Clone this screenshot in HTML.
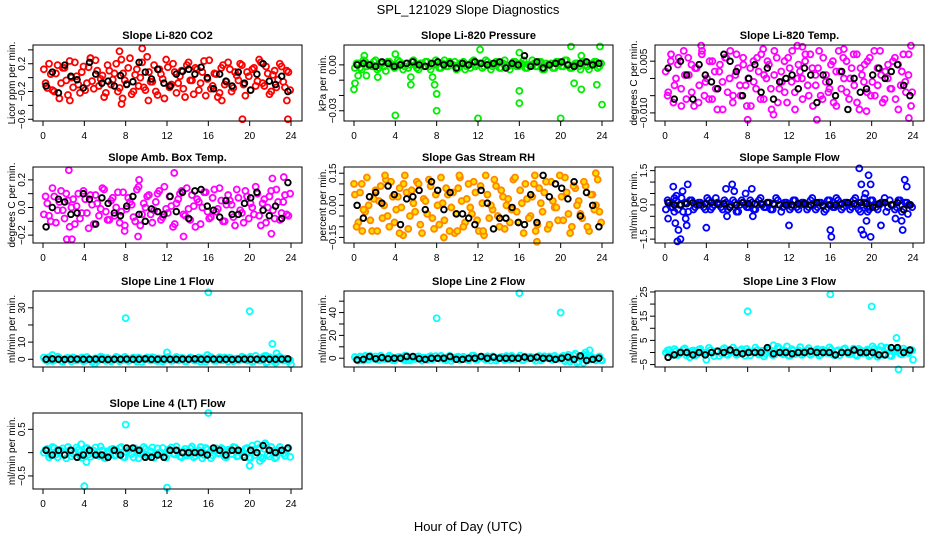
<!DOCTYPE html>
<html><head><meta charset="utf-8"><style>
html,body{margin:0;padding:0;background:#fff;}
svg{display:block;font-family:"Liberation Sans",sans-serif;}
</style></head><body>
<svg id="fig" width="936" height="540" viewBox="0 0 936 540">
<text x="468" y="14" text-anchor="middle" font-size="13">SPL_121029  Slope Diagnostics</text>
<text x="468" y="531" text-anchor="middle" font-size="13">Hour of Day (UTC)</text>
</svg>
<script>
const co2Vals=[12,-15,5,-20,18,-8,14,-25,0,22,-10,8,-18,15,-5,25,-12,3,-22,10,-3,20,-15,6,-9,28,-20,12,0,-14,30,-6,18,-25,5,-30,15,-10,8,-8,10,-28,22,-4,14,-18,8,-26,25,-12,5,-22,18,-6,12,-15,3,20,-10,8,-18,14,-5,22,-12,6,-20,10,-3,16,-14,8];
const co2Vals2=[-8,20,-18,6,-30,14,-4,24,-14,2,-22,16,-8,28,-16,10,-2,-28,18,-10,6,-20,26,-4,14,-24,4,-12,22,-18,8,-6,-20,12,-2,26,-14,20,-22,2,-16,18,-4,-24,12,-8,24,-2,-16,6,-28,14,-10,22,-20,8,-4,18,-26,2,12,-12,26,-8,16,-24,4,-14,20,-6,10,-18];
const co2Black=[-12,8,-22,18,2,-3,-15,22,5,-8,-5,-12,3,-10,-6,22,8,-2,12,-8,-12,5,9,12,5,15,0,-16,5,-5,-12,8,-8,-18,5,20,-5,-10,2,-20];
const co2Out=[[7.7,-0.3],[7.6,-0.38],[19.3,-0.6],[23.7,-0.6],[9.6,0.42],[7.4,0.38],[17.3,-0.33],[10.2,-0.33],[23.6,-0.33],[2.6,-0.33],[4.6,0.28]];
const presVals=[-2,1,-3,2,0,-1,3,-2,1,-4,2,0,-1,2,-3,1,0,3,-2,1,-1,2,-3,0,1,-2,3,-1,0,2,-2,1,-3,0,2,-1,1,-2,3,0,-1,2,-2,1,0,-3,2,-1,1,3,-2,0,1,-1,2,-3,0,1,-2,2,-1,3,0,-2,1,-1,2,0,-3,1,2,-1];
const presVals2=[1,-2,3,-1,0,2,-3,1,-1,2,0,-2,3,1,-1,-2,2,0,-3,1,2,-1,0,3,-2,1,-1,2,0,-3,1,2,-1,-2,3,0,1,-1,2,-3,0,1,-2,3,-1,0,2,-1,1,-2,0,3,-1,2,-3,1,0,-2,2,1,-1,3,-2,0,1,-3,2,-1,0,2,-2,1];
const presBlack=[0,1,0,-1,2,1,-1,0,1,2,0,-1,1,2,0,1,-2,1,0,2,1,0,1,2,-2,1,0,6,-1,2,-2,0,1,2,0,-1,1,2,0,1];
const presOut=[[0,-0.016],[0.1,-0.012],[0.4,-0.007],[1.2,-0.007],[2.3,-0.008],[5.5,-0.008],[5.5,-0.013],[7.6,-0.008],[7.8,-0.013],[8.0,-0.019],[4.0,-0.033],[8.0,-0.030],[12.0,-0.035],[16.0,-0.025],[16.0,-0.017],[20.0,-0.035],[24,-0.026],[22,-0.016],[21.3,-0.012],[23.5,-0.013],[21,0.012],[23.8,0.012],[12.2,0.010],[4,0.007],[1.0,0.006],[22,0.006],[16,0.008]];
const tempVals=[2,-4,5,-7,0,6,-3,8,-6,1,4,-8,3,-2,7,-5,0,5,-6,2,-9,4,-1,6,-4,8,-7,1,3,-5,6,-2,0,-8,5,-3,2,7,-6,0,4,-9,1,6,-3,-1,5,-7,3,8,-4,0,2,-6,5,-2,7,-8,1,3,-5,6,-1,-4,4,-7,2,8,-3,0,5,-6,3,-2,7,-9,1,4,-4,6,-1,-5,3,8,-7,2,0,-3,5,-6,4,-2,7,-4,1,-8];
const tempVals2=[-5,7,-2,4,-8,1,6,-4,3,-7,8,-1,-6,5,-3,2,-9,6,0,-5,7,-2,4,-8,3,-1,6,-6,1,5,-3,8,-7,2,-4,6,-1,-9,4,0,7,-5,3,-2,8,-6,1,-3,5,-8,2,6,-4,0,7,-7,3,-1,5,-5,8,-2,1,-6,4,-3,6,-9,2,-1,7,-4];
const tempBlack=[3,-6,5,1,-6,4,1,-1,-3,7,5,2,-5,0,4,-4,3,-6,-1,0,1,-3,3,1,-7,1,-1,-5,2,-9,0,-4,-3,1,3,0,2,4,-2,-5];
const tempOut=[[8.0,-0.012],[14.7,-0.012],[23.6,-0.0115],[3.5,0.0095],[9.5,0.0085],[17.3,0.0085],[12.8,0.0095],[13.3,0.0092],[23.8,0.0095],[19.5,-0.0095],[10.5,-0.0105]];
const ambVals=[-5,3,-10,8,-2,12,-8,5,0,-12,10,-4,6,-15,2,9,-6,14,-3,-9,7,0,-11,11,-1,4,-7,13,-13,3,8,-5,-2,10,-9,15,-4,1,-12,6,12,-6,-1,9,-14,4,0,11,-8,7,-3,14,-10,2,5,-7,13,-2,-11,8,3,-5,10,-13,6,0,12,-8,4,-4,9,-6];
const ambVals2=[8,-6,14,-11,4,-2,10,-14,6,1,-8,12,-4,9,-12,3,-1,13,-9,5,-6,11,-3,-13,7,2,-10,15,-5,0,9,-11,4,12,-7,-1,8,-14,3,10,-5,14,-9,1,6,-12,11,-3,-7,13,-1,5,-10,9,2,-13,7,-4,12,-8,0,15,-6,3,-11,8,-2,13,-9,4,-5,10];
const ambBlack=[-14,0,6,4,-5,-4,10,6,-12,7,3,-4,-6,1,8,-5,-10,-1,-3,-5,8,-3,11,-8,12,13,1,-2,-7,5,-5,-5,3,7,11,-2,-6,1,-8,18];
const ambOut=[[2.3,-0.23],[2.8,-0.23],[2.5,0.27],[12.7,0.25],[9.2,-0.21],[13.6,-0.21],[22.1,-0.19],[23.3,0.22],[7.9,-0.17],[9.3,0.2],[22.2,0.21]];
const rhVals=[5,-8,10,-3,0,-12,7,2,-6,12,-10,4,-2,8,-14,6,-5,1,11,-9,3,-4,9,-11,0,13,-7,5,-1,-13,8,2,-8,10,-4,6,-12,1,14,-6,-2,9,-10,4,0,-8,12,-3,7,-13,3,-5,10,-9,1,6,-11,11,-1,-7,4,13,-4,-10,8,2,-6,9,-12,5,0,-3];
const rhVals2=[-10,6,-2,13,-7,3,-12,9,0,-5,11,-8,4,-1,14,-11,7,-3,10,-13,2,12,-6,5,-9,1,8,-12,6,-4,13,-10,3,-1,11,-7,9,-14,5,0,12,-5,7,-11,3,-2,13,-8,1,10,-6,4,-12,8,-3,11,-9,2,-1,14,-7,6,-13,9,0,-4,11,-10,5,-2,12,-8];
const rhBlack=[0,-6,4,6,1,9,5,-9,3,4,7,-2,11,7,-2,6,-4,-4,-6,-9,7,1,-11,-6,-6,-1,-8,-9,5,-8,14,4,10,8,3,11,-5,6,0,-10];
const rhOut=[[0.8,-0.12],[4.4,-0.13],[8.7,-0.15],[10.0,-0.12],[17.7,-0.17],[23.4,0.15],[12.5,-0.12],[3.0,0.14],[10.2,0.14],[17.5,0.14],[0,0.1],[4.8,0.1]];
const sfVals=[-2,1,-1,2,0,-3,1,2,-2,0,1,-1,3,-2,0,1,-1,2,-2,0,1,-3,2,0,-1,1,-2,2,0,-1,1,-2,3,0,-1,1,-2,2,-1,0,1,-2,2,0,-1,1,-3,2,0,-1,2,-2,1,0,-1,3,-2,0,1,-2,2,-1,0,1,-3,2,0,-1,2,-2,1,0];
const sfVals2=[2,-1,3,-2,0,1,-3,2,-1,1,0,-2,2,-1,3,0,-2,1,-1,2,-3,0,1,-1,2,-2,0,3,-1,1,-2,0,2,-3,1,0,-1,2,-2,1,0,-1,3,-2,1,0,-2,2,-1,3,0,-1,1,-2,2,0,-3,1,-1,2,0,-2,1,3,-1,0,-2,2,-3,1,0,-1];
const sfBlack=[1,0,0,0.5,1,0,0.5,1,0.5,0.5,-1,0,1,0.5,0.5,0.5,1,0.5,0,0,0,0.5,0.5,0,1,-0.5,0,0,0.5,1,0.5,1,0.5,-1,0.5,1,0,1,-2,0];
const sfOut=[[0.3,-0.6],[0.8,0.8],[1.0,-0.8],[1.2,-1.6],[1.5,-1.5],[1.3,-1.1],[1.7,0.6],[2.1,-0.9],[2.2,0.9],[2.0,-0.6],[4.0,-1.0],[5.9,0.7],[6.5,0.9],[6.7,0.6],[6.0,-0.5],[8.4,0.7],[8.5,-0.5],[7.8,0.5],[12.0,-0.9],[16.0,-1.1],[16.1,-1.4],[18.8,1.6],[19.0,0.9],[19.2,-1.3],[19.0,-1.1],[19.4,0.5],[19.7,1.3],[19.9,0.9],[19.9,-1.4],[19.5,-0.7],[20.9,-0.9],[22.3,-0.6],[22.9,-0.7],[23.0,-1.1],[23.2,1.1],[23.4,0.8],[23.5,-0.4],[19.3,0.3],[19.6,-0.3],[1.6,0.3],[1.1,0.4],[0.9,-0.3]];
const l1Vals=[1,-1,0.5,-0.5,1.5,-1,0,0.8,-1.2,0.5,-0.3,1,-0.8,0.2,-1.5,0.6,-0.4,1.2,-0.9,0.3,-0.6,1.4,-1.1,0,0.7,-0.5,1,-1.3,0.4,-0.2,1.1,-0.7,0.9,-1,0.2,-0.4,1.3,-0.9,0.5,-0.6,0.8,-1.2,0.1,0.6,-0.8,1,-0.3,-1.4,0.7,0.3,-0.9,1.2,-0.5,0,0.9,-1.1,0.4,-0.2,1,-0.7,1.5,-1,0.3,-0.6,1.8,-1.5,0.6,-0.9,1.1,-0.3,0.4,-1.2];
const l1Vals2=[-0.5,1.2,-1,0.3,0.8,-1.4,0.6,-0.2,1.1,-0.7,0.4,-1.1,1.3,-0.3,0.1,-0.9,1.5,-0.5,0.7,-1.2,0.2,0.9,-0.6,1.4,-1,0.3,-0.4,1,-1.5,0.6,-0.1,1.2,-0.8,0.5,-1.3,0.9,0,-0.7,1.4,-0.3,0.6,-1.1,1.1,-0.5,0.2,-1.4,0.8,-0.2,1.3,-0.9,0.4,-0.6,1,-1.2,0.5,0.1,-0.8,1.5,-0.4,0.7,-1.6,2,-0.7,1,-2,1.2,-1,0.5,1.4,-0.8,0.2,-0.5];
const l1Black=[0,0.2,0,-0.1,0,0.1,0,0,0.1,0,-0.1,0,0,0.1,0,0,0.2,0,0,0.1,0,0,0.1,0,0.2,0,0,0.1,0,0,-0.1,0,0.1,0,0,0.1,0,0,0.1,0.2];
const l1Out=[[8,24],[16,39],[20,28],[22.2,9],[22.6,3.5],[12,4],[0.9,2.5],[15.9,2.5],[21.6,2],[24,-3],[5,-2.5],[22.5,-2]];
const l2Vals=[1,-2,0.5,2,-1,0,1.5,-1.5,0.8,-0.5,2.2,-1.8,0,1,-1,2,-2,0.3,1.2,-0.8,0.5,-1.5,1.8,-0.3,0,2,-1.2,1,-2.2,0.6,1.4,-0.6,0.2,-1.7,2.1,-0.9,0.7,1.1,-1.4,0,1.6,-2,0.4,-0.4,1.9,-1.1,0.9,-0.2,2.3,-1.6,0.1,1.3,-0.7,0.6,-1.9,1.7,0,-1,2,-0.5,1.2,-2.5,3,-1.5,4,-3,1,2,-1,0.5,-2,1.5];
const l2Vals2=[-1,1.5,-2,0.6,1.9,-0.4,-1.3,2.1,-0.8,0.3,1.2,-1.9,0.9,-0.1,2.2,-1.4,0.5,-0.7,1.6,-2.1,0.2,1,-1.1,1.8,-0.5,0.4,-1.8,2,-0.2,0.8,-1.5,1.3,-0.9,0.1,2.3,-1.2,0.6,-0.3,1.7,-2,0.9,-0.6,1.1,-1.6,0.3,2,-1,0.5,-1.7,1.4,-0.2,0.7,-2.2,1.9,-0.8,0.2,1.5,-1.3,0.4,-0.5,2,-1,-3,2.5,-4,1,3,-2,1.5,-1,0.5,-1.5];
const l2Black=[-1.5,-1,1.5,-0.5,0.5,-0.5,0,0,1.5,1.5,-0.5,-1,0,0,0,1.5,-1,-1,0,0,1.5,0,1,0,0,0,0,1,0,1,0,0,-1,0,1,-1,2,-2,-1,0];
const l2Out=[[8,35],[16,57],[20,40],[22.2,-4],[22.8,7],[22.4,5],[24,-2],[1.0,-1.5],[5,-2]];
const l3Vals=[0,1,-1,0.5,-0.5,1.2,-1.2,0.3,0.8,-0.8,1.5,-0.2,0,1,-1.5,0.6,-0.3,1.8,-1,0.2,0.9,-0.6,1.3,-1.3,0.4,0,2,-0.9,0.7,-0.4,1.1,-1.1,0.1,1.6,-0.7,0.5,-1.4,0.8,0,2.2,-0.5,1,-1,0.3,1.4,-0.8,0.6,-0.2,1.2,-1.2,0.9,0,1.7,-0.6,0.2,-1,1.5,-0.3,0.7,-1.5,2.5,-0.4,1,-0.9,2,-1.2,0.4,0.8,-0.5,1.6,0,1];
const l3Vals2=[0.8,-0.6,1.4,-1.1,0.2,1.7,-0.4,0.6,-1.3,1.1,0,-0.8,1.9,-0.2,0.5,-1.4,1.2,-0.7,0.3,2,-1,0.7,-0.3,1.5,-1.2,0.4,1,-0.5,-1.6,1.3,0.1,-0.9,2.3,-0.3,0.6,-1.2,1.4,-0.6,0.9,-1,0.2,1.8,-0.4,0.8,-1.3,1.1,-0.1,2.1,-0.8,0.5,-1.1,1.3,0,-0.7,1.6,-1.4,0.9,-0.2,1.2,-1,1.5,-1.8,2.5,-1,1.8,-1.5,0.5,1.2,-0.8,0.6,-0.3,0.9];
const l3Black=[-2,-1,0,0,-1,0,-1,0,0.5,0,1,0,-0.5,0,0,0,2,-0.5,0,0,-0.5,0,0,0.5,0,0,0,-1,0,0,1,0,0,0,-1,-1,2,2,0,1];
const l3Out=[[8,17],[16,24],[20,19],[22.4,6],[22.6,-7],[4,-3],[24,-3],[10.5,3],[11.8,2.5],[2.4,-2]];
const l4Vals=[0,0.08,-0.06,0.1,-0.1,0.04,-0.03,0.12,-0.08,0.02,0.06,-0.11,0.09,-0.04,0,0.11,-0.07,0.05,-0.12,0.03,0.08,-0.05,0.1,-0.09,0.01,0.07,-0.1,0.04,-0.02,0.12,-0.06,0.03,-0.11,0.09,0,-0.08,0.06,0.11,-0.04,0.02,-0.1,0.08,-0.03,0.13,-0.07,0.05,-0.12,0.1,0,-0.06,0.09,-0.02,0.07,-0.1,0.04,0.12,-0.08,0.01,-0.05,0.1,-0.11,0.06,0.18,-0.1,0.08,-0.04,0.12,-0.12,0.05,0.02,-0.07,0.1];
const l4Vals2=[0.06,-0.1,0.12,-0.04,0.02,0.09,-0.12,0.05,-0.02,0.11,-0.07,0,0.1,-0.09,0.04,-0.05,0.13,-0.11,0.03,0.07,-0.06,0.01,0.12,-0.1,0.05,-0.03,0.09,-0.12,0.02,0.08,-0.07,0.11,-0.04,0,0.1,-0.11,0.06,-0.02,0.13,-0.08,0.03,-0.06,0.09,-0.1,0.01,0.12,-0.05,0.07,-0.12,0.04,-0.01,0.1,-0.09,0.06,-0.03,0.11,-0.07,0.02,0.08,-0.11,0.15,-0.05,0.1,-0.13,0.16,-0.08,0.04,-0.1,0.12,-0.02,0.06,-0.09];
const l4Black=[0.05,-0.05,0.05,-0.05,0.05,-0.1,-0.05,0.05,-0.05,-0.05,-0.1,0.05,-0.05,0.1,0.1,0.05,-0.1,-0.1,-0.05,-0.1,0.05,0.05,0,0,0,0,-0.05,0.1,0.05,-0.05,0.05,0.05,-0.1,0.05,0,0.15,0.05,0,0.05,0.1];
const l4Out=[[4,-0.72],[8,0.6],[12,-0.75],[16,0.85],[20,-0.28],[21.5,0.2],[4.2,-0.2],[21,-0.18],[3.7,0.18]];
const xTicks=[0,4,8,12,16,20,24];

const panels=[
 {name:'co2',title:'Slope Li-820 CO2',ylab:'Licor ppm per min.',col:0,row:0,ymin:-0.625,ymax:0.47,ticks:[-0.6,-0.4,-0.2,0,0.2,0.4],labels:{'-0.6':'-0.6','-0.2':'-0.2','0.2':'0.2'},vals:co2Vals,vals2:co2Vals2,black:co2Black,out:co2Out,unit:0.01,color:'#ff0000',fill:'none'},
 {name:'pressure',title:'Slope Li-820 Pressure',ylab:'kPa per min.',col:1,row:0,ymin:-0.0367,ymax:0.013,ticks:[-0.03,-0.02,-0.01,0],labels:{'-0.03':'-0.03','0':'0.00'},vals:presVals,vals2:presVals2,black:presBlack,out:presOut,unit:0.001,color:'#00ee00',fill:'none'},
 {name:'licor-temp',title:'Slope Li-820 Temp.',ylab:'degrees C per min.',col:2,row:0,ymin:-0.01235,ymax:0.0097,ticks:[-0.01,-0.005,0,0.005],labels:{'-0.01':'-0.010','0.005':'0.005'},vals:tempVals,vals2:tempVals2,black:tempBlack,out:tempOut,unit:0.001,color:'#ff00ff',fill:'none'},
 {name:'amb-temp',title:'Slope Amb. Box Temp.',ylab:'degrees C per min.',col:0,row:1,ymin:-0.257,ymax:0.293,ticks:[-0.2,-0.1,0,0.1,0.2],labels:{'-0.2':'-0.2','0':'0.0','0.2':'0.2'},vals:ambVals,vals2:ambVals2,black:ambBlack,out:ambOut,unit:0.01,color:'#ff00ff',fill:'none'},
 {name:'gas-rh',title:'Slope Gas Stream RH',ylab:'percent per min.',col:1,row:1,ymin:-0.176,ymax:0.179,ticks:[-0.15,-0.1,-0.05,0,0.05,0.1,0.15],labels:{'-0.15':'-0.15','0':'0.00','0.15':'0.15'},vals:rhVals,vals2:rhVals2,black:rhBlack,out:rhOut,unit:0.01,color:'#ff8800',fill:'#ffdd00'},
 {name:'sample-flow',title:'Slope Sample Flow',ylab:'ml/min per min.',col:2,row:1,ymin:-1.67,ymax:1.66,ticks:[-1.5,-1,-0.5,0,0.5,1,1.5],labels:{'-1.5':'-1.5','0':'0.0','1.5':'1.5'},vals:sfVals,vals2:sfVals2,black:sfBlack,out:sfOut,unit:0.1,color:'#0000ff',fill:'none'},
 {name:'line1-flow',title:'Slope Line 1 Flow',ylab:'ml/min per min.',col:0,row:2,ymin:-4.5,ymax:39.8,ticks:[0,10,20,30],labels:{'0':'0','10':'10','30':'30'},vals:l1Vals,vals2:l1Vals2,black:l1Black,out:l1Out,unit:1,color:'#00ffff',fill:'none'},
 {name:'line2-flow',title:'Slope Line 2 Flow',ylab:'ml/min per min.',col:1,row:2,ymin:-7.7,ymax:58.9,ticks:[0,10,20,30,40,50],labels:{'0':'0','20':'20','40':'40'},vals:l2Vals,vals2:l2Vals2,black:l2Black,out:l2Out,unit:1,color:'#00ffff',fill:'none'},
 {name:'line3-flow',title:'Slope Line 3 Flow',ylab:'ml/min per min.',col:2,row:2,ymin:-6,ymax:25.4,ticks:[-5,0,5,10,15,20,25],labels:{'-5':'-5','5':'5','15':'15','25':'25'},vals:l3Vals,vals2:l3Vals2,black:l3Black,out:l3Out,unit:1,color:'#00ffff',fill:'none'},
 {name:'line4-flow',title:'Slope Line 4 (LT) Flow',ylab:'ml/min per min.',col:0,row:3,ymin:-0.78,ymax:0.85,ticks:[-0.5,0,0.5],labels:{'-0.5':'-0.5','0.5':'0.5'},vals:l4Vals,vals2:l4Vals2,black:l4Black,out:l4Out,unit:1,color:'#00ffff',fill:'none'}
];
const colX=[33,344,655], rowY=[45,167,291,413], BW=269, BH=76;
const NS='http://www.w3.org/2000/svg';
const svg=document.getElementById('fig');
function mk(tag,attrs,parent){const e=document.createElementNS(NS,tag);for(const k in attrs)e.setAttribute(k,attrs[k]);parent.appendChild(e);return e;}
panels.forEach(p=>{
  const L=colX[p.col],T=rowY[p.row];
  const g=mk('g',{},svg);
  
  
  const xs=t=>L+10+t*248/24;
  const ys=v=>T+BH-(v-p.ymin)/(p.ymax-p.ymin)*BH;
  const title=mk('text',{x:L+BW/2,y:T-6,'text-anchor':'middle','font-size':'11','font-weight':'bold'},g);
  title.textContent=p.title;
  
  
  const yl=mk('text',{x:0,y:0,'text-anchor':'middle','font-size':'10',transform:`translate(${L-18},${T+BH/2}) rotate(-90)`},g);
  yl.textContent=p.ylab;
  
  
  const pts=mk('g',{},g);
  
  
  const n=p.vals.length;
  p.vals.forEach((v,i)=>{
    const c=mk('circle',{cx:xs((i+0.25)*24/n),cy:ys(v*p.unit),r:3,fill:p.fill,stroke:p.color,'stroke-width':1.8},pts);
    
    
  });
  const n2=p.vals2.length;
  p.vals2.forEach((v,i)=>{
    const c=mk('circle',{cx:xs((i+0.75)*24/n2),cy:ys(v*p.unit),r:3,fill:p.fill,stroke:p.color,'stroke-width':1.8},pts);
    
    
  });
  p.out.forEach(o=>{
    const c=mk('circle',{cx:xs(o[0]),cy:ys(o[1]),r:3,fill:p.fill,stroke:p.color,'stroke-width':1.8},pts);
    
    
  });
  const nb=p.black.length;
  p.black.forEach((v,i)=>{
    const c=mk('circle',{cx:xs((i+0.5)*24/nb),cy:ys(v*p.unit),r:2.8,fill:'none',stroke:'#000','stroke-width':1.9},pts);
    
    
  });
  const box=mk('rect',{x:L,y:T,width:BW,height:BH,fill:'none',stroke:'#000','stroke-width':1},g);
  
  
  const xa=mk('g',{},g);
  
  
  mk('line',{x1:xs(0),x2:xs(24),y1:T+BH,y2:T+BH,stroke:'#000'},xa);
  xTicks.forEach(t=>{
    mk('line',{x1:xs(t),x2:xs(t),y1:T+BH,y2:T+BH+5,stroke:'#000'},xa);
    if(p.row!==2){
      const tx=mk('text',{x:xs(t),y:T+BH+18,'text-anchor':'middle','font-size':'10'},xa);
      tx.textContent=t;
      
      
    }
  });
  const ya=mk('g',{},g);
  
  
  p.ticks.forEach(v=>{
    const y=ys(v);
    mk('line',{x1:L-5,x2:L,y1:y,y2:y,stroke:'#000'},ya);
    const key=String(v);
    if(p.labels[key]!==undefined){
      const tx=mk('text',{x:0,y:0,'text-anchor':'middle','font-size':'10',transform:`translate(${L-8},${y}) rotate(-90)`},ya);
      tx.textContent=p.labels[key].replace('-','\u2212');
      
      
    }
  });
});
</script>
</body></html>
